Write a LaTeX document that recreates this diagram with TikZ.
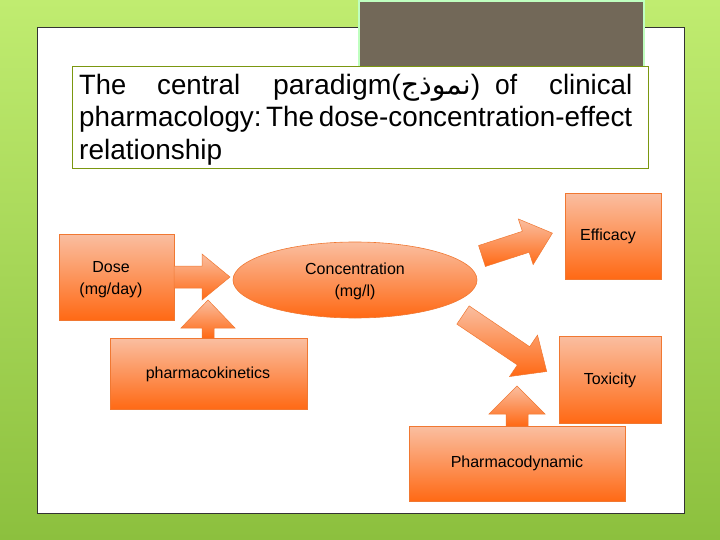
\documentclass[tikz,border=0pt]{standalone}
\usepackage{fontspec}
\usetikzlibrary{shapes.geometric}
\setmainfont{Liberation Sans}
\newfontfamily\arabfont{DejaVu Sans}[Script=Arabic]
\definecolor{bgtop}{RGB}{192,236,112}
\definecolor{bgbot}{RGB}{140,192,62}
\definecolor{grayb}{RGB}{114,104,88}
\definecolor{otop}{RGB}{250,190,160}
\definecolor{obot}{RGB}{255,105,20}
\definecolor{oline}{RGB}{240,120,50}
\begin{document}
\begin{tikzpicture}[x={(1pt,0)},y={(0,-1pt)},
  box/.style={draw=oline,line width=0.6pt,top color=otop,bottom color=obot},
  barrow/.style={draw=oline,line width=0.5pt,top color=otop,bottom color=obot},
  lbl/.style={font=\fontsize{16}{22}\selectfont,align=center},
  tw/.style={anchor=base west,inner sep=0,font=\fontsize{28}{32}\selectfont}]
\newcommand{\blkarrow}[6]{%
  \begin{scope}[shift={(#1,#2)},rotate=#3]
   \path[barrow] (0,-#5) -- (#4-28,-#5) -- (#4-28,-#6) -- (#4,0) -- (#4-28,#6) -- (#4-28,#5) -- (0,#5) -- cycle;
  \end{scope}}
\useasboundingbox (0,0) rectangle (720,540);
\shade[top color=bgtop,bottom color=bgbot] (0,0) rectangle (720,540);
\node[draw=black!80,fill=white,line width=0.7pt,minimum width=647pt,minimum height=486pt,anchor=north west,inner sep=0] (panel) at (37,27) {};
\node[draw=green!25!white,fill=grayb,line width=2pt,minimum width=285pt,minimum height=72pt,anchor=north west,inner sep=0] (gray) at (358,0) {};
\node[draw=olive!70!green,line width=1.2pt,fill=white,minimum width=576pt,minimum height=102pt,anchor=north west,inner sep=0] (titlebox) at (72,66) {};
\node[tw] (t1) at (79,95) {\resizebox{47pt}{\height}{The}};
\node[tw] (t2) at (157,95) {\resizebox{83pt}{\height}{central}};
\node[tw] (t3) at (273,95) {\resizebox{207pt}{\height}{paradigm({\arabfont نموذج})}};
\node[tw] (t4) at (495,95) {\resizebox{22pt}{\height}{of}};
\node[tw] (t5) at (549,95) {\resizebox{83pt}{\height}{clinical}};
\node[tw] (t6) at (79,127) {\resizebox{553pt}{\height}{pharmacology:\,The\,dose-concentration-effect}};
\node[tw] (t7) at (79,160) {\resizebox{143pt}{\height}{relationship}};
% boxes
\node[box,minimum width=115pt,minimum height=86pt,anchor=north west,inner sep=0] (dose) at (59,234) {};
\node[lbl] at (111,280) {Dose\\(mg/day)};
\node[box,minimum width=197pt,minimum height=71pt,anchor=north west,inner sep=0] (pk) at (110,338) {};
\node[lbl] at (208,374) {pharmacokinetics};
\node[box,ellipse,minimum width=244pt,minimum height=76pt,inner sep=0] (conc) at (355,280) {};
\node[lbl] at (355,281) {Concentration\\(mg/l)};
\node[box,minimum width=96pt,minimum height=86pt,anchor=north west,inner sep=0] (eff) at (565,193) {};
\node[lbl] at (608,236) {Efficacy};
\node[box,minimum width=102pt,minimum height=87pt,anchor=north west,inner sep=0] (tox) at (559,336) {};
\node[lbl] at (610,380) {Toxicity};
\node[box,minimum width=216pt,minimum height=75pt,anchor=north west,inner sep=0] (pd) at (409,426) {};
\node[lbl] at (517,463) {Pharmacodynamic};
% block arrows
\blkarrow{174}{277}{0}{56}{11}{23}
\blkarrow{208}{338}{90}{38}{6}{27}
\blkarrow{517}{426}{90}{40}{11}{28}
\blkarrow{482}{256}{18}{74}{11}{24}
\blkarrow{463}{315}{-34}{101}{11}{25}
\end{tikzpicture}
\end{document}
